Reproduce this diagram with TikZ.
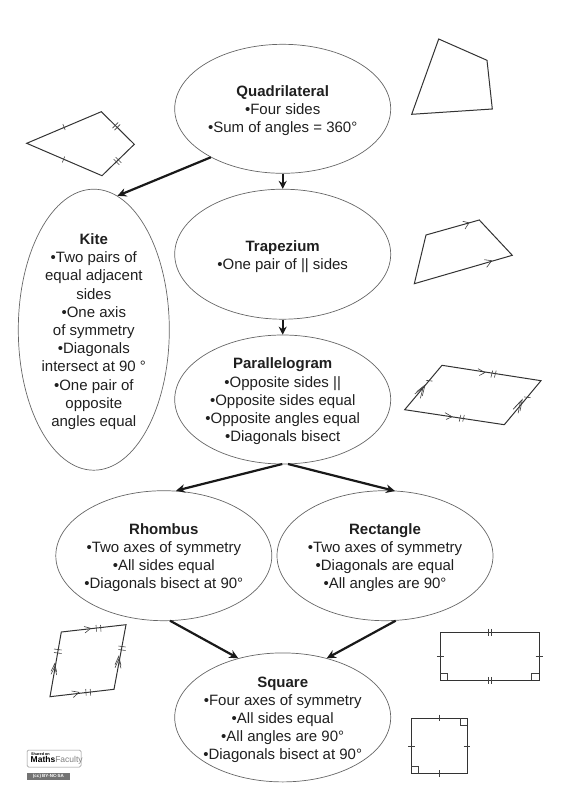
\documentclass[tikz,border=0pt]{standalone}
\usepackage{fontspec}
\setmainfont{Liberation Sans}
\usetikzlibrary{shapes.geometric,arrows.meta,calc}
\tikzset{
 oval/.style={draw=black!60,line width=0.7pt,ellipse,inner sep=0pt},
 lbl/.style={inner sep=0pt,align=center,text=black!88,font=\fontsize{15}{18.2}\selectfont},
 flow/.style={draw=black!90,line width=2.2pt,-{Stealth[length=9pt,width=8.5pt]}},
 flowthin/.style={draw=black!90,line width=1.7pt,-{Stealth[length=8pt,width=8pt]}},
 figline/.style={draw=black!80,line width=1pt,line join=miter},
 tick/.style={draw=black!75,line width=0.6pt},
 chev/.style={draw=black!75,line width=0.6pt}
}
\newcommand{\hd}[1]{\textbf{#1}}
\begin{document}
\begin{tikzpicture}[x=1pt,y=-1pt]
\useasboundingbox (0,0) rectangle (565,800);
% ellipses
\node[oval,minimum width=216pt,minimum height=129pt] (quad) at (282.7,108.8) {};
\node[oval,minimum width=216pt,minimum height=130pt] (trap) at (282.7,254.2) {};
\node[oval,minimum width=216pt,minimum height=129pt] (para) at (282.7,399.5) {};
\node[oval,minimum width=151pt,minimum height=281pt] (kite) at (93.8,329.7) {};
\node[oval,minimum width=216pt,minimum height=130pt] (rhom) at (163.8,555.7) {};
\node[oval,minimum width=216pt,minimum height=130pt] (rect) at (385,555.7) {};
\node[oval,minimum width=216pt,minimum height=129pt] (squa) at (282.7,717.4) {};
% texts
\node[lbl] (quadt) at ([yshift=-1.8pt]quad.center) {\hd{Quadrilateral}\\•Four sides\\•Sum of angles = 360°};
\node[lbl] (trapt) at ([yshift=-2.5pt]trap.center) {\hd{Trapezium}\\•One pair of || sides};
\node[lbl] (parat) at ([yshift=-2pt]para.center) {\hd{Parallelogram}\\•Opposite sides ||\\•Opposite sides equal\\•Opposite angles equal\\•Diagonals bisect};
\node[lbl] (kitet) at ([yshift=-2pt]kite.center) {\hd{Kite}\\•Two pairs of\\equal adjacent\\sides\\•One axis\\of symmetry\\•Diagonals\\intersect at 90 °\\•One pair of\\opposite\\angles equal};
\node[lbl] (rhomt) at ([yshift=-2pt]rhom.center) {\hd{Rhombus}\\•Two axes of symmetry\\•All sides equal\\•Diagonals bisect at 90°};
\node[lbl] (rectt) at ([yshift=-2pt]rect.center) {\hd{Rectangle}\\•Two axes of symmetry\\•Diagonals are equal\\•All angles are 90°};
\node[lbl] (squat) at ([yshift=-2.5pt]squa.center) {\hd{Square}\\•Four axes of symmetry\\•All sides equal\\•All angles are 90°\\•Diagonals bisect at 90°};
% arrows
\coordinate (pl) at (282.3,464); \coordinate (pr) at (288,464);
\coordinate (rt) at (176,490.7); \coordinate (ct) at (395,491);
\coordinate (rb) at (170,620.7); \coordinate (cb) at (395.7,620.7);
\coordinate (sl) at (238.3,658.3); \coordinate (sr) at (326.7,658.3);
\draw[flow] (quad.214.4) -- (kite.80.6);
\draw[flowthin] (quad.south) -- (trap.north);
\draw[flowthin] (trap.south) -- (para.north);
\draw[flow] (pl) -- (rt);
\draw[flow] (pr) -- (ct);
\draw[flow] (rb) -- (sl);
\draw[flow] (cb) -- (sr);
% plain quadrilateral
\draw[figline] (438.7,39) -- (487,60.3) -- (492.3,109) -- (411.7,114.3) -- cycle;
% kite
\draw[figline] (26.7,143.3) -- (101.3,111.7) -- (134.3,144.3) -- (102,175.7) -- cycle;
\draw[tick] (62.8,124) -- (65.2,130);
\draw[tick] (64.7,156.5) -- (62.3,162.5);
\draw[tick] (112.5,128.1) -- (118.1,122.5);
\draw[tick] (114.5,130.1) -- (120.1,124.5);
\draw[tick] (113.7,159.2) -- (119.3,164.8);
\draw[tick] (115.7,157.2) -- (121.3,162.8);
% trapezium
\draw[figline] (426,235) -- (479.3,220) -- (512.3,255.3) -- (414.3,283.7) -- cycle;
\draw[chev] (462.7,221.3) -- (469,222.8) -- (465,229);
\draw[chev] (484.3,259.7) -- (491.7,260.7) -- (486.7,267.3);
% parallelogram
\draw[figline] (442,365.3) -- (541,380.7) -- (504.3,424.7) -- (404.7,409.7) -- cycle;
\draw[chev] (478,368.7) -- (485,372.5) -- (479.3,375.5);
\draw[chev] (445,412.7) -- (452,416.7) -- (446,419.5);
\foreach \d in {0,3.5}{\draw[tick] (492.7+\d,370.5) -- (490.9+\d,377.5); \draw[tick] (460.8+\d,415) -- (459.2+\d,421.5);}
\foreach \d in {0,1}{
 \draw[chev] (416.7-1.9*\d,391.7+2.3*\d) -- (425-1.9*\d,385+2.3*\d) -- (422.3-1.9*\d,396+2.3*\d);
 \draw[chev] (515-1.9*\d,407+2.3*\d) -- (522.3-1.9*\d,399.5+2.3*\d) -- (520-1.9*\d,411+2.3*\d);}
\draw[tick] (426,380.3) -- (432.5,381.1);
\draw[tick] (524,396.9) -- (530.5,397.7);
% rhombus picture
\draw[figline] (61.3,632) -- (126,624.7) -- (114,689.3) -- (50,696.7) -- cycle;
\draw[chev] (84,626.5) -- (90.7,628.3) -- (85,633);
\draw[chev] (71.7,691) -- (79,692.3) -- (73.3,697.5);
\foreach \d in {0,4.5}{\draw[tick] (96+\d,625) -- (96.5+\d,631.5); \draw[tick] (85.7+\d,689) -- (86.2+\d,695.5);}
\foreach \d in {0,3.5}{\draw[tick] (54,649+\d) -- (61.5,650+\d); \draw[tick] (118.5,646+\d) -- (125.5,647+\d);}
\foreach \d in {0,3}{
 \draw[chev] (51,671.3+\d) -- (54.7,663.7+\d) -- (56.7,672+\d);
 \draw[chev] (115,664.7+\d) -- (118.7,656.3+\d) -- (121,665.3+\d);}
% rectangle
\draw[figline] (440.3,632.3) rectangle (539,680.3);
\foreach \d in {0,3}{\draw[tick] (488+\d,628.8) -- (488+\d,635.8); \draw[tick] (488+\d,676.8) -- (488+\d,683.8);}
\draw[tick] (436.8,656.3) -- (443.8,656.3);
\draw[tick] (535.5,656.3) -- (542.5,656.3);
\draw[tick] (440.3,673.3) -- (447.3,673.3) -- (447.3,680.3);
\draw[tick] (539,673.3) -- (531.7,673.3) -- (531.7,680.3);
% square
\draw[figline] (411.3,718) rectangle (467,773.7);
\draw[tick] (439.3,714.7) -- (439.3,721.3); \draw[tick] (439.3,770.4) -- (439.3,777);
\draw[tick] (408,746) -- (414.6,746); \draw[tick] (463.7,746) -- (470.3,746);
\draw[tick] (460,718) -- (460,725) -- (467,725);
\draw[tick] (411.3,766.7) -- (418.3,766.7) -- (418.3,773.7);
% badges
\draw[draw=black!45,rounded corners=1.5pt,line width=0.5pt] (27,750) rectangle (81,767);
\node[inner sep=0pt,anchor=west,font=\fontsize{3.8}{4}\selectfont\bfseries] (shared) at (31,754) {Shared on};
\node[inner sep=0pt,anchor=west,font=\fontsize{8.5}{8.5}\selectfont] (mf) at (30.5,760) {\textbf{Maths}{\color{black!50}Faculty}};
\fill[black!55] (27,773) rectangle (70,780);
\node[inner sep=0pt,font=\fontsize{4.5}{4.5}\selectfont\bfseries,text=white] (cc) at (48.5,776.5) {(cc) BY-NC-SA};
\end{tikzpicture}
\end{document}
